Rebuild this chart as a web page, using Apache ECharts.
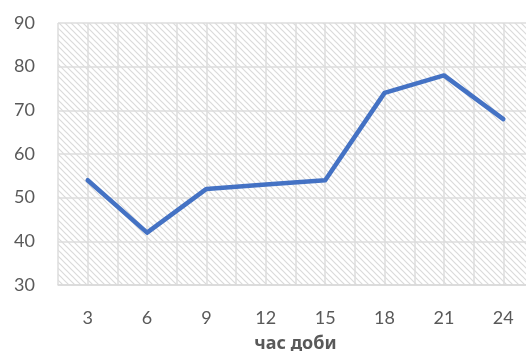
<!DOCTYPE html>
<html>
<head>
<meta charset="utf-8">
<script src="https://cdn.jsdelivr.net/npm/echarts@6/dist/echarts.min.js"></script>
<style>
  html, body { margin: 0; padding: 0; background: #fff; }
  #chart { width: 526px; height: 351px; }
</style>
</head>
<body>
<div id="chart"></div>
<script>
// Hour of day and the measured value at that hour
const hours = [3, 6, 9, 12, 15, 18, 21, 24];
const values = [54, 42, 52, 53, 54, 74, 78, 68];
const yTicks = { min: 30, max: 90, step: 10 };
const xTitle = 'час доби';

// Diagonal hatch tile for the plot background
function hatchTile() {
  const s = 6;
  const c = document.createElement('canvas');
  c.width = s; c.height = s;
  const g = c.getContext('2d');
  g.fillStyle = '#ffffff';
  g.fillRect(0, 0, s, s);
  g.strokeStyle = '#dadada';
  g.lineWidth = 1.2;
  g.beginPath();
  g.moveTo(-1, -1); g.lineTo(s + 1, s + 1);
  g.moveTo(-1, s - 1); g.lineTo(1, s + 1);
  g.moveTo(s - 1, -1); g.lineTo(s + 1, 1);
  g.stroke();
  return c;
}

const isLabelTick = v => Math.abs(v / 3 - Math.round(v / 3)) < 1e-6;

const chart = echarts.init(document.getElementById('chart'), null, { renderer: 'canvas' });
chart.setOption({
  animation: false,
  grid: {
    left: 58, top: 23, width: 475, height: 262,
    outerBoundsMode: 'none',
    containLabel: false,
    show: true, borderWidth: 0,
    backgroundColor: { image: hatchTile(), repeat: 'repeat' }
  },
  xAxis: {
    type: 'value',
    min: 1.5, max: 25.5, interval: 1.5,
    name: xTitle, nameLocation: 'middle', nameGap: 50,
    nameTextStyle: { fontFamily: 'Noto Sans', fontSize: 18, fontWeight: 'bold', color: '#595959' },
    axisLine: { show: true, lineStyle: { color: '#d9d9d9', width: 1.5 } },
    axisTick: { show: false },
    axisLabel: {
      margin: 24, fontFamily: 'Lato', fontSize: 18, color: '#595959',
      showMinLabel: true, showMaxLabel: true,
      formatter: v => isLabelTick(v) ? String(Math.round(v)) : ''
    },
    splitLine: { show: true, lineStyle: { color: '#dcdcdc', width: 1.5 } }
  },
  yAxis: {
    type: 'value',
    min: yTicks.min, max: yTicks.max, interval: yTicks.step,
    axisLine: { show: false },
    axisTick: { show: false },
    axisLabel: { margin: 23, fontFamily: 'Lato', fontSize: 18, color: '#595959' },
    splitLine: { show: true, lineStyle: { color: '#dcdcdc', width: 1.5 } }
  },
  series: [{
    type: 'line',
    data: hours.map((h, i) => [h, values[i]]),
    showSymbol: false,
    lineStyle: { color: '#4472C4', width: 4.5, join: 'round', cap: 'round' }
  }]
});
</script>
</body>
</html>
